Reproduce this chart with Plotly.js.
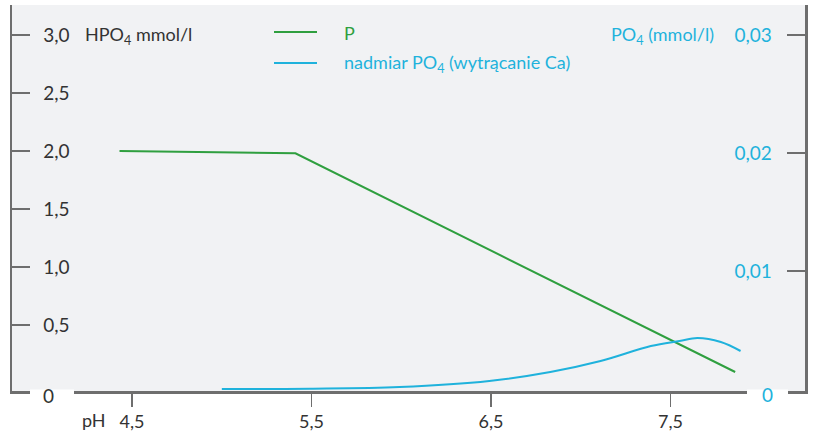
<!DOCTYPE html>
<html>
<head>
<meta charset="utf-8">
<script src="https://cdn.plot.ly/plotly-3.0.1.min.js"></script>
<style>html,body{margin:0;padding:0;background:#fff;}#chart{width:815px;height:436px;}</style>
</head>
<body>
<div id="chart"></div>
<script>
// Data
const phP = [4.43, 5.41, 7.86];
const valP = [2.0, 1.98, 0.095];
const phPO4 = [5.0, 5.49, 5.99, 6.49, 6.83, 7.11, 7.39, 7.55, 7.65, 7.78, 7.89];
const valPO4 = [0, 0.00003, 0.00017, 0.00068, 0.00144, 0.00237, 0.00364, 0.00407, 0.00432, 0.00398, 0.00322];

const xTickVals = [4.5, 5.5, 6.5, 7.5];
const xTickText = ['4,5', '5,5', '6,5', '7,5'];
const yLeftVals = [0.5, 1.0, 1.5, 2.0, 2.5, 3.0];
const yLeftText = ['0,5', '1,0', '1,5', '2,0', '2,5', '3,0'];
const yRightVals = [0.01, 0.02, 0.03];
const yRightText = ['0,01', '0,02', '0,03'];

const seriesNames = ['P', 'nadmiar PO<sub>4</sub> (wytrącanie Ca)'];

const GREEN = '#2f9f3f';
const BLUE = '#1fb2dc';
const AXIS = '#6e6e6e';
const TXT = '#333333';
const FONT = 'Lato, "Open Sans", sans-serif';
const colors = [GREEN, BLUE];

const traces = [
  {x: phP, y: valP, name: seriesNames[0], type: 'scatter', mode: 'lines',
   line: {color: GREEN, width: 2}, yaxis: 'y'},
  {x: phPO4, y: valPO4, name: seriesNames[1], type: 'scatter', mode: 'lines',
   line: {color: BLUE, width: 2, shape: 'spline', smoothing: 1}, yaxis: 'y2'}
];

// helpers: pixel -> paper coordinates of the plot area
const PW = 793, PH = 386, PL = 12, PT = 5;
const px = v => (v - PL) / PW;
const py = v => 1 - (v - PT) / PH;

// legend drawn as line samples + text
const legendRows = [32, 63];
const shapes = legendRows.map((r, i) => ({
  type: 'line', xref: 'paper', yref: 'paper',
  x0: px(274), x1: px(317), y0: py(r), y1: py(r),
  line: {color: colors[i], width: 2}
}));
// gaps in the bottom axis line around the "0" labels
[[30, 74], [747, 788]].forEach(g => shapes.push({
  type: 'rect', xref: 'paper', yref: 'paper', layer: 'above',
  x0: px(g[0]), x1: px(g[1]), y0: py(395), y1: py(389.5),
  fillcolor: '#ffffff', line: {width: 0}
}));
const legendText = legendRows.map((r, i) => ({
  text: seriesNames[i], xref: 'paper', yref: 'paper', x: px(342), y: py(r + 1),
  xanchor: 'left', yanchor: 'middle', showarrow: false,
  font: {family: FONT, size: 18, color: colors[i]}
}));

const layout = {
  width: 815, height: 436,
  margin: {l: 12, r: 10, t: 5, b: 45},
  paper_bgcolor: '#ffffff',
  plot_bgcolor: '#f1f2f4',
  font: {family: FONT, size: 18, color: TXT},
  showlegend: false,
  xaxis: {range: [3.831, 8.249], tickvals: xTickVals, ticktext: xTickText,
          showgrid: false, zeroline: false, showline: true, linecolor: AXIS, linewidth: 2.5,
          ticks: 'outside', ticklen: 13, tickwidth: 1.5, tickcolor: AXIS,
          tickfont: {family: FONT, size: 18, color: TXT}, fixedrange: true},
  yaxis: {range: [-0.069, 3.2586], tickvals: yLeftVals, ticktext: yLeftText,
          showgrid: false, zeroline: false, showline: true, linecolor: AXIS, linewidth: 2.5,
          ticks: 'inside', ticklen: 18, tickwidth: 2, tickcolor: AXIS,
          ticklabelposition: 'inside', ticklabelstandoff: 14,
          tickfont: {family: FONT, size: 19, color: TXT}},
  yaxis2: {range: [-0.00017, 0.032542], tickvals: yRightVals, ticktext: yRightText,
           overlaying: 'y', side: 'right',
           showgrid: false, zeroline: false, showline: true, linecolor: AXIS, linewidth: 2.5,
           ticks: 'inside', ticklen: 18, tickwidth: 2, tickcolor: AXIS,
           ticklabelposition: 'inside', ticklabelstandoff: 16,
           tickfont: {family: FONT, size: 19, color: BLUE}},
  shapes: shapes,
  annotations: legendText.concat([
    {text: 'HPO<sub>4</sub> mmol/l', xref: 'paper', yref: 'y', x: px(83), y: 3.0,
     xanchor: 'left', yanchor: 'middle', showarrow: false,
     font: {family: FONT, size: 18, color: TXT}},
    {text: 'PO<sub>4</sub> (mmol/l)', xref: 'paper', yref: 'y2', x: px(716), y: 0.03,
     xanchor: 'right', yanchor: 'middle', showarrow: false,
     font: {family: FONT, size: 18, color: BLUE}},
    {text: '0', xref: 'paper', yref: 'paper', x: px(48), y: py(395), xanchor: 'center', yanchor: 'middle',
     showarrow: false, font: {family: FONT, size: 19, color: TXT}},
    {text: '0', xref: 'paper', yref: 'paper', x: px(767), y: py(394), xanchor: 'center', yanchor: 'middle',
     showarrow: false, font: {family: FONT, size: 19, color: BLUE}},
    {text: 'pH', xref: 'x', yref: 'paper', x: 4.29, y: 0, xanchor: 'center', yanchor: 'top',
     yshift: -16, showarrow: false, font: {family: FONT, size: 18, color: TXT}}
  ])
};

Plotly.newPlot('chart', traces, layout, {displayModeBar: false, staticPlot: true});
</script>
</body>
</html>
